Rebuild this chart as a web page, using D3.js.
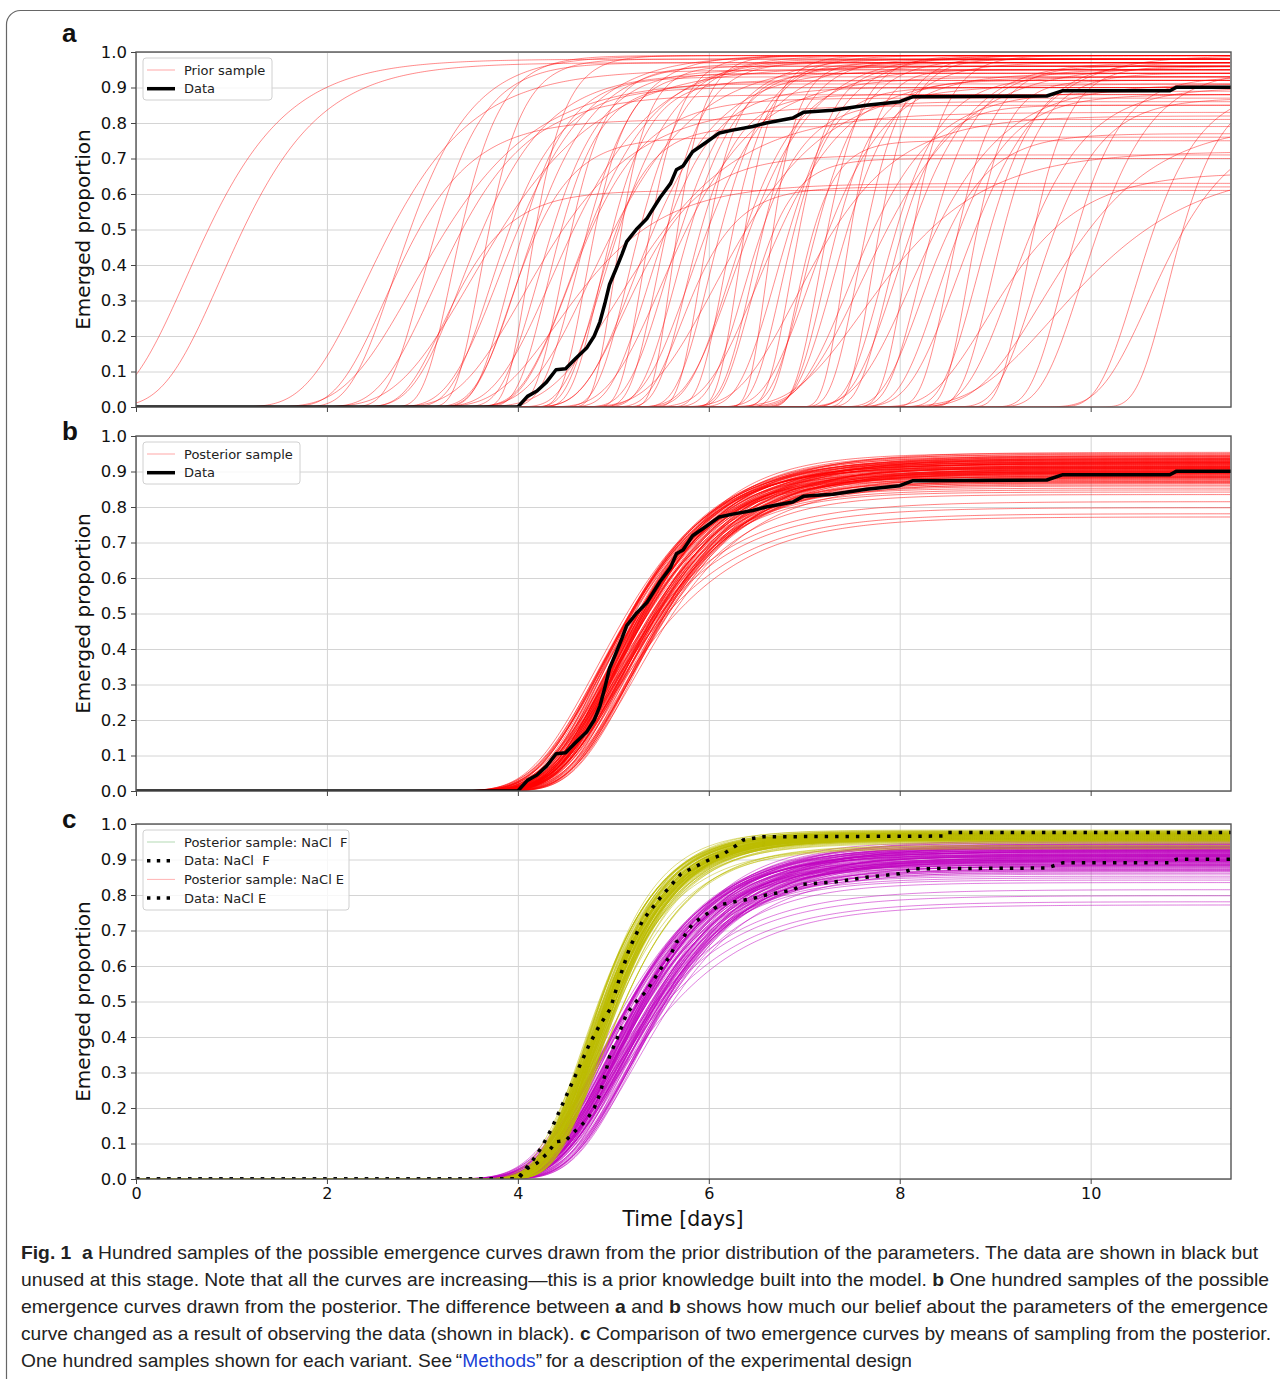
<!DOCTYPE html>
<html>
<head>
<meta charset="utf-8">
<script src="https://cdn.jsdelivr.net/npm/d3@7"></script>
<style>
  body { margin: 0; background: #fff; }
  svg { display: block; }
</style>
</head>
<body>
<div id="chartContainer"></div>
<script>
// ---- data ----
const xMax = 11.47;
const xTickValues = [0, 2, 4, 6, 8, 10];
const yTickValues = [0, 0.1, 0.2, 0.3, 0.4, 0.5, 0.6, 0.7, 0.8, 0.9, 1.0];

// observed emergence, NaCl E  [day, proportion]
const dataE = [[0, 0], [4.0, 0], [4.1, 0.03], [4.2, 0.045], [4.3, 0.07], [4.4, 0.105], [4.5, 0.108],
  [4.6, 0.135], [4.72, 0.166], [4.8, 0.2], [4.86, 0.24], [4.91, 0.29], [4.96, 0.345], [5.03, 0.39],
  [5.09, 0.43], [5.14, 0.466], [5.24, 0.5], [5.35, 0.53], [5.49, 0.59], [5.6, 0.63], [5.66, 0.668],
  [5.73, 0.679], [5.83, 0.719], [5.97, 0.745], [6.11, 0.772], [6.25, 0.78], [6.46, 0.79], [6.6, 0.8],
  [6.88, 0.814], [6.99, 0.83], [7.3, 0.836], [7.65, 0.85], [8.0, 0.86], [8.14, 0.874], [9.54, 0.876],
  [9.71, 0.891], [10.83, 0.891], [10.9, 0.901], [11.47, 0.901]];

// observed emergence, NaCl F
const dataF = [[0, 0], [4.0, 0], [4.05, 0.02], [4.15, 0.05], [4.25, 0.09], [4.35, 0.14], [4.45, 0.2],
  [4.55, 0.26], [4.65, 0.32], [4.75, 0.38], [4.85, 0.43], [4.97, 0.48], [5.07, 0.57], [5.17, 0.65],
  [5.31, 0.73], [5.5, 0.795], [5.71, 0.86], [6.01, 0.9], [6.15, 0.915], [6.29, 0.94], [6.36, 0.955],
  [6.57, 0.964], [8.45, 0.966], [8.5, 0.976], [11.47, 0.976]];

// prior samples: [asymptote, inflection day, rate]
const priorSamples = [
  [0.98, 0.52, 1.67], [0.97, 0.88, 1.7], [0.95, 2.4, 1.6], [0.99, 2.7, 2.2], [0.92, 2.9, 1.4],
  [0.97, 3.0, 2.8], [0.88, 3.1, 1.8], [0.99, 3.3, 3.5], [0.94, 3.4, 2.0], [0.96, 3.5, 1.3],
  [0.98, 3.6, 4.0], [0.90, 3.7, 2.5], [0.99, 3.8, 1.9], [0.93, 3.9, 3.0], [0.97, 4.0, 2.3],
  [0.85, 4.05, 1.5], [0.99, 4.1, 4.5], [0.95, 4.2, 2.7], [0.91, 4.3, 3.3], [0.98, 4.35, 1.7],
  [0.96, 4.45, 3.8], [0.87, 4.5, 2.2], [0.99, 4.6, 2.9], [0.94, 4.7, 4.2], [0.97, 4.75, 1.6],
  [0.92, 4.85, 3.5], [0.99, 4.9, 2.4], [0.96, 5.0, 5.0], [0.83, 5.05, 1.4], [0.98, 5.15, 3.1],
  [0.95, 5.2, 2.0], [0.99, 5.3, 4.4], [0.90, 5.35, 2.6], [0.97, 5.45, 3.7], [0.93, 5.5, 1.8],
  [0.99, 5.6, 5.2], [0.96, 5.65, 2.8], [0.88, 5.75, 3.4], [0.98, 5.8, 2.1], [0.94, 5.9, 4.6],
  [0.99, 6.0, 3.0], [0.91, 6.05, 1.5], [0.97, 6.15, 3.9], [0.95, 6.2, 2.4], [0.99, 6.3, 4.8],
  [0.86, 6.35, 2.9], [0.98, 6.45, 3.3], [0.93, 6.5, 1.9], [0.97, 6.6, 5.5], [0.99, 6.7, 2.6],
  [0.90, 6.75, 3.6], [0.96, 6.85, 4.3], [0.82, 6.9, 1.7], [0.98, 7.0, 3.0], [0.94, 7.05, 2.2],
  [0.99, 7.15, 4.0], [0.92, 7.2, 3.4], [0.97, 7.3, 2.7], [0.95, 7.4, 5.0], [0.89, 7.45, 2.0],
  [0.99, 7.55, 3.8], [0.96, 7.6, 1.6], [0.98, 7.7, 4.5], [0.93, 7.8, 2.9], [0.85, 7.85, 3.5],
  [0.97, 7.95, 2.3], [0.99, 8.05, 4.2], [0.91, 8.1, 1.8], [0.95, 8.2, 3.1], [0.98, 5.55, 2.5],
  [0.88, 8.4, 2.5], [0.96, 8.5, 3.7], [0.99, 8.6, 2.0], [0.92, 8.7, 4.4], [0.97, 8.8, 2.8],
  [0.94, 8.95, 3.3], [0.99, 6.25, 2.1], [0.90, 9.15, 2.2], [0.96, 9.3, 3.9], [0.87, 9.4, 2.6],
  [0.98, 4.55, 2.0], [0.93, 9.7, 3.0], [0.95, 9.9, 2.4], [0.80, 9.48, 1.5], [0.90, 10.46, 2.65],
  [0.80, 10.6, 2.0], [0.90, 10.8, 3.2], [0.61, 3.2, 2.5], [0.62, 5.7, 3.0], [0.63, 4.4, 1.6],
  [0.70, 6.4, 3.8], [0.71, 5.1, 2.2], [0.72, 7.6, 1.4], [0.76, 3.9, 2.8], [0.77, 8.2, 2.6],
  [0.75, 6.9, 4.5], [0.79, 4.8, 3.3], [0.66, 8.9, 1.8], [0.81, 2.6, 2.0], [0.68, 9.6, 1.2]
];

// posterior samples, NaCl E (asymptote, inflection day, rate)
const postE_A = [
  0.912, 0.887, 0.934, 0.871, 0.921, 0.903, 0.945, 0.862, 0.917, 0.894,
  0.926, 0.899, 0.853, 0.938, 0.908, 0.878, 0.951, 0.896, 0.929, 0.884,
  0.941, 0.915, 0.866, 0.901, 0.932, 0.923, 0.889, 0.911, 0.835, 0.905,
  0.936, 0.874, 0.919, 0.909, 0.897, 0.947, 0.882, 0.924, 0.848, 0.914,
  0.902, 0.931, 0.876, 0.927, 0.907, 0.954, 0.891, 0.898, 0.922, 0.868,
  0.913, 0.935, 0.893, 0.815, 0.925, 0.886, 0.943, 0.910, 0.900, 0.879,
  0.937, 0.920, 0.895, 0.906, 0.883, 0.949, 0.859, 0.928, 0.892, 0.916,
  0.781, 0.933, 0.885, 0.918, 0.904, 0.911, 0.872, 0.944, 0.926, 0.899,
  0.908, 0.888, 0.939, 0.798, 0.921, 0.897, 0.914, 0.869, 0.930, 0.924,
  0.901, 0.942, 0.881, 0.913, 0.772, 0.927, 0.894, 0.935, 0.842, 0.909];
const postE_T0 = [
  5.02, 4.91, 5.10, 4.97, 4.85, 5.15, 5.04, 4.93, 5.20, 4.99,
  4.88, 5.07, 5.01, 4.95, 5.13, 4.83, 5.05, 5.18, 4.96, 5.09,
  4.90, 5.03, 5.22, 4.98, 4.87, 5.11, 5.00, 4.94, 5.16, 5.06,
  4.82, 5.08, 4.99, 5.14, 4.92, 5.03, 5.19, 4.89, 5.01, 5.12,
  4.97, 4.86, 5.06, 5.24, 4.95, 5.02, 5.10, 4.93, 4.84, 5.17,
  5.04, 4.98, 5.08, 4.91, 5.13, 5.00, 4.88, 5.21, 5.05, 4.96,
  5.11, 4.90, 5.02, 5.15, 4.94, 4.99, 5.07, 4.85, 5.18, 5.03,
  4.95, 5.09, 4.92, 5.01, 5.14, 4.87, 5.06, 4.97, 5.23, 5.00,
  4.89, 5.12, 5.04, 4.93, 4.98, 5.16, 5.01, 5.08, 4.86, 5.05,
  4.96, 5.10, 5.19, 4.90, 5.03, 4.99, 5.13, 4.94, 5.07, 5.00];
const postE_K = [
  1.52, 1.61, 1.44, 1.57, 1.49, 1.66, 1.38, 1.54, 1.47, 1.70,
  1.58, 1.42, 1.63, 1.50, 1.35, 1.55, 1.68, 1.46, 1.59, 1.40,
  1.53, 1.64, 1.48, 1.37, 1.56, 1.51, 1.72, 1.43, 1.60, 1.49,
  1.45, 1.57, 1.67, 1.41, 1.54, 1.62, 1.50, 1.36, 1.58, 1.47,
  1.65, 1.52, 1.39, 1.56, 1.61, 1.44, 1.53, 1.69, 1.48, 1.57,
  1.42, 1.59, 1.51, 1.34, 1.63, 1.55, 1.46, 1.60, 1.50, 1.66,
  1.40, 1.54, 1.58, 1.45, 1.71, 1.49, 1.56, 1.43, 1.62, 1.52,
  1.32, 1.47, 1.60, 1.55, 1.41, 1.64, 1.50, 1.57, 1.38, 1.53,
  1.68, 1.46, 1.55, 1.36, 1.59, 1.44, 1.62, 1.51, 1.48, 1.65,
  1.54, 1.39, 1.57, 1.61, 1.33, 1.50, 1.58, 1.45, 1.63, 1.52];

// posterior samples, NaCl F
const postF_A = [
  0.965, 0.958, 0.972, 0.961, 0.969, 0.954, 0.976, 0.963, 0.967, 0.959,
  0.971, 0.962, 0.950, 0.974, 0.966, 0.957, 0.980, 0.964, 0.970, 0.956,
  0.975, 0.968, 0.952, 0.963, 0.973, 0.969, 0.958, 0.966, 0.940, 0.962,
  0.972, 0.955, 0.970, 0.965, 0.961, 0.978, 0.957, 0.968, 0.948, 0.966,
  0.963, 0.974, 0.956, 0.971, 0.965, 0.983, 0.959, 0.962, 0.969, 0.953,
  0.967, 0.973, 0.961, 0.935, 0.970, 0.958, 0.977, 0.966, 0.963, 0.955,
  0.974, 0.969, 0.962, 0.965, 0.957, 0.979, 0.951, 0.971, 0.961, 0.967,
  0.932, 0.973, 0.958, 0.970, 0.963, 0.966, 0.954, 0.981, 0.969, 0.962,
  0.965, 0.959, 0.974, 0.938, 0.970, 0.962, 0.966, 0.955, 0.975, 0.969,
  0.961, 0.978, 0.957, 0.967, 0.930, 0.971, 0.963, 0.973, 0.945, 0.966];
const postF_T0 = [
  4.78, 4.71, 4.84, 4.75, 4.68, 4.81, 4.77, 4.73, 4.87, 4.76,
  4.70, 4.82, 4.79, 4.74, 4.86, 4.69, 4.80, 4.75, 4.83, 4.72,
  4.77, 4.85, 4.67, 4.79, 4.74, 4.81, 4.76, 4.70, 4.88, 4.78,
  4.73, 4.83, 4.75, 4.69, 4.80, 4.77, 4.86, 4.72, 4.79, 4.74,
  4.82, 4.68, 4.76, 4.84, 4.71, 4.78, 4.80, 4.73, 4.66, 4.85,
  4.75, 4.79, 4.72, 4.87, 4.77, 4.70, 4.82, 4.76, 4.74, 4.81,
  4.69, 4.78, 4.84, 4.73, 4.79, 4.75, 4.71, 4.86, 4.77, 4.80,
  4.74, 4.68, 4.83, 4.76, 4.72, 4.81, 4.78, 4.70, 4.85, 4.75,
  4.79, 4.73, 4.77, 4.88, 4.71, 4.82, 4.76, 4.74, 4.69, 4.80,
  4.78, 4.72, 4.84, 4.75, 4.81, 4.67, 4.77, 4.79, 4.73, 4.86];
const postF_K = [
  2.15, 2.08, 2.24, 2.02, 2.19, 2.10, 2.30, 2.00, 2.17, 2.07,
  2.22, 2.12, 1.96, 2.27, 2.18, 2.04, 2.35, 2.11, 2.20, 2.03,
  2.32, 2.16, 1.98, 2.10, 2.25, 2.21, 2.06, 2.15, 1.92, 2.12,
  2.23, 2.05, 2.21, 2.16, 2.09, 2.33, 2.04, 2.18, 1.95, 2.15,
  2.10, 2.25, 2.03, 2.22, 2.14, 2.40, 2.07, 2.11, 2.20, 2.00,
  2.17, 2.26, 2.09, 1.90, 2.23, 2.06, 2.30, 2.15, 2.11, 2.03,
  2.27, 2.21, 2.12, 2.14, 2.05, 2.34, 1.97, 2.22, 2.09, 2.17,
  1.91, 2.25, 2.06, 2.20, 2.11, 2.15, 2.02, 2.38, 2.21, 2.12,
  2.14, 2.08, 2.27, 1.93, 2.22, 2.11, 2.16, 2.03, 2.28, 2.21,
  2.09, 2.33, 2.05, 2.18, 1.90, 2.23, 2.12, 2.25, 1.94, 2.15];

const captionLines = [
  [["Fig. 1", "b"], ["\u00a0\u00a0", ""], ["a", "b"], [" Hundred samples of the possible emergence curves drawn from the prior distribution of the parameters. The data are shown in black but", ""]],
  [["unused at this stage. Note that all the curves are increasing\u2014this is a prior knowledge built into the model. ", ""], ["b", "b"], [" One hundred samples of the possible", ""]],
  [["emergence curves drawn from the posterior. The difference between ", ""], ["a", "b"], [" and ", ""], ["b", "b"], [" shows how much our belief about the parameters of the emergence", ""]],
  [["curve changed as a result of observing the data (shown in black). ", ""], ["c", "b"], [" Comparison of two emergence curves by means of sampling from the posterior.", ""]],
  [["One hundred samples shown for each variant. See\u2009\u201c", ""], ["Methods", "link"], ["\u201d\u2009for a description of the experimental design", ""]]
];

function createChart() {
    const width = 1280;
    const height = 1379;
    const plotLeft = 136;
    const plotRight = 1231;
    const font = "'DejaVu Sans', Verdana, sans-serif";

    const svg = d3.create("svg")
        .attr("viewBox", [0, 0, width, height])
        .attr("width", width)
        .attr("height", height);

    // outer frame of the figure
    svg.append("rect")
        .attr("x", 6.5).attr("y", 10.5)
        .attr("width", 1300).attr("height", 1420)
        .attr("rx", 14)
        .attr("fill", "none")
        .attr("stroke", "#666")
        .attr("stroke-width", 1.2);

    const x = d3.scaleLinear().domain([0, xMax]).range([plotLeft, plotRight]);
    const days = d3.range(0, xMax + 0.0001, 0.02);
    const gompertz = (A, t0, k) => t => A * Math.exp(-Math.exp(-k * (t - t0)));

    const panels = [
        { letter: "a", top: 52, bottom: 407, letterY: 42 },
        { letter: "b", top: 436, bottom: 791, letterY: 440 },
        { letter: "c", top: 824, bottom: 1179, letterY: 828 }
    ];

    panels.forEach((p, i) => {
        const y = d3.scaleLinear().domain([0, 1]).range([p.bottom, p.top]);
        const line = d3.line().x(d => x(d[0])).y(d => y(d[1]));
        const curve = f => days.map(t => [t, f(t)]);

        // grid
        svg.append("g")
            .attr("transform", `translate(${plotLeft},0)`)
            .call(d3.axisLeft(y).tickValues(yTickValues).tickSize(-(plotRight - plotLeft)).tickFormat(""))
            .call(g => g.select(".domain").remove())
            .call(g => g.selectAll("line").attr("stroke", "#d4d4d4"));
        svg.append("g")
            .attr("transform", `translate(0,${p.bottom})`)
            .call(d3.axisBottom(x).tickValues(xTickValues).tickSize(-(p.bottom - p.top)).tickFormat(""))
            .call(g => g.select(".domain").remove())
            .call(g => g.selectAll("line").attr("stroke", "#d4d4d4"));

        svg.append("clipPath").attr("id", "clip" + i)
            .append("rect")
            .attr("x", plotLeft).attr("y", p.top)
            .attr("width", plotRight - plotLeft).attr("height", p.bottom - p.top);
        const plot = svg.append("g").attr("clip-path", `url(#clip${i})`);

        const drawSet = (A, T0, K, color) => {
            plot.append("g").selectAll("path")
                .data(d3.range(A.length))
                .join("path")
                .attr("d", j => line(curve(gompertz(A[j], T0[j], K[j]))))
                .attr("fill", "none")
                .attr("stroke", color)
                .attr("stroke-opacity", 0.5)
                .attr("stroke-width", 1);
        };

        if (i === 0) {
            plot.append("g").selectAll("path")
                .data(priorSamples)
                .join("path")
                .attr("d", d => line(curve(gompertz(d[0], d[1], d[2]))))
                .attr("fill", "none")
                .attr("stroke", "red")
                .attr("stroke-opacity", 0.5)
                .attr("stroke-width", 0.9);
        } else if (i === 1) {
            drawSet(postE_A, postE_T0, postE_K, "red");
        } else {
            drawSet(postE_A, postE_T0, postE_K, "#bf00bf");
            drawSet(postF_A, postF_T0, postF_K, "#bcbc00");
        }

        // observed data
        if (i < 2) {
            plot.append("path")
                .attr("d", line(dataE))
                .attr("fill", "none")
                .attr("stroke", "#000")
                .attr("stroke-width", 3.5)
                .attr("stroke-linejoin", "round");
        } else {
            [dataF, dataE].forEach(d => {
                plot.append("path")
                    .attr("d", line(d))
                    .attr("fill", "none")
                    .attr("stroke", "#000")
                    .attr("stroke-width", 3.5)
                    .attr("stroke-dasharray", "3.4 7");
            });
        }

        // frame
        svg.append("rect")
            .attr("x", plotLeft).attr("y", p.top)
            .attr("width", plotRight - plotLeft).attr("height", p.bottom - p.top)
            .attr("fill", "none")
            .attr("stroke", "#555")
            .attr("stroke-width", 1.4);

        // y axis
        svg.append("g")
            .attr("transform", `translate(${plotLeft},0)`)
            .call(d3.axisLeft(y).tickValues(yTickValues).tickSize(5).tickPadding(4).tickFormat(d3.format(".1f")))
            .call(g => g.select(".domain").remove())
            .call(g => g.selectAll("line").attr("stroke", "#444"))
            .call(g => g.selectAll("text").attr("font-family", font).attr("font-size", 16.5).attr("fill", "#111"));

        // x axis ticks (labels only under the last panel)
        svg.append("g")
            .attr("transform", `translate(0,${p.bottom})`)
            .call(d3.axisBottom(x).tickValues(xTickValues).tickSize(5).tickPadding(4))
            .call(g => g.select(".domain").remove())
            .call(g => g.selectAll("line").attr("stroke", "#444"))
            .call(g => g.selectAll("text")
                .attr("font-family", font).attr("font-size", 16).attr("fill", "#111")
                .style("display", i === 2 ? null : "none"));

        // axis title
        svg.append("text")
            .attr("transform", `translate(90,${(p.top + p.bottom) / 2}) rotate(-90)`)
            .attr("text-anchor", "middle")
            .attr("font-family", font)
            .attr("font-size", 20)
            .attr("fill", "#111")
            .text("Emerged proportion");

        // panel letter
        svg.append("text")
            .attr("x", 62).attr("y", p.letterY)
            .attr("font-family", "'Liberation Sans', Arial, sans-serif")
            .attr("font-weight", "bold")
            .attr("font-size", 26)
            .attr("fill", "#111")
            .text(p.letter);
    });

    svg.append("text")
        .attr("x", 683).attr("y", 1226)
        .attr("text-anchor", "middle")
        .attr("font-family", font)
        .attr("font-size", 20.5)
        .attr("fill", "#111")
        .text("Time [days]");

    // legends
    const legends = [
        { x: 143, y: 58, w: 129, h: 42, rows: [
            { label: "Prior sample", stroke: "red", opacity: 0.35, width: 1 },
            { label: "Data", stroke: "#000", opacity: 1, width: 3.5 }] },
        { x: 143, y: 442, w: 157, h: 42, rows: [
            { label: "Posterior sample", stroke: "red", opacity: 0.35, width: 1 },
            { label: "Data", stroke: "#000", opacity: 1, width: 3.5 }] },
        { x: 143, y: 830, w: 206, h: 80, rows: [
            { label: "Posterior sample: NaCl  F", stroke: "green", opacity: 0.3, width: 1 },
            { label: "Data: NaCl  F", stroke: "#000", opacity: 1, width: 3.5, dash: "3.4 6.4" },
            { label: "Posterior sample: NaCl E", stroke: "red", opacity: 0.3, width: 1 },
            { label: "Data: NaCl E", stroke: "#000", opacity: 1, width: 3.5, dash: "3.4 6.4" }] }
    ];
    legends.forEach(L => {
        const g = svg.append("g");
        g.append("rect")
            .attr("x", L.x).attr("y", L.y).attr("width", L.w).attr("height", L.h)
            .attr("rx", 3)
            .attr("fill", "#fff").attr("fill-opacity", 0.8)
            .attr("stroke", "#d0d0d0");
        L.rows.forEach((r, k) => {
            const cy = L.y + 12 + k * 18.7;
            g.append("line")
                .attr("x1", 147).attr("x2", 175).attr("y1", cy).attr("y2", cy)
                .attr("stroke", r.stroke).attr("stroke-opacity", r.opacity)
                .attr("stroke-width", r.width)
                .attr("stroke-dasharray", r.dash || null);
            g.append("text")
                .attr("x", 184).attr("y", cy).attr("dy", "0.36em")
                .attr("font-family", font).attr("font-size", 13)
                .attr("fill", "#222")
                .style("white-space", "pre")
                .text(r.label);
        });
    });

    // caption
    const lineEnds = [1258, 1269, 1268, 1271, 912];
    captionLines.forEach((parts, k) => {
        const t = svg.append("text")
            .attr("x", 21).attr("y", 1259 + k * 27)
            .attr("font-family", "'Liberation Sans', Arial, sans-serif")
            .attr("font-size", 19)
            .attr("fill", "#222")
            .attr("textLength", lineEnds[k] - 21)
            .attr("lengthAdjust", "spacingAndGlyphs");
        parts.forEach(([s, kind]) => {
            t.append("tspan")
                .attr("font-weight", kind === "b" ? "bold" : null)
                .attr("fill", kind === "link" ? "#1a3fd6" : null)
                .text(s);
        });
    });

    return svg.node();
}

document.getElementById("chartContainer").appendChild(createChart());
</script>
</body>
</html>
